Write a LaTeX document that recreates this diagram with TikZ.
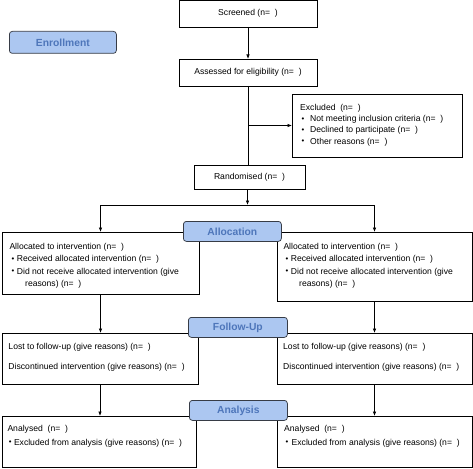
\documentclass[tikz,border=0pt]{standalone}
\usepackage{fontspec}
\usepackage{graphicx}
\setmainfont{Liberation Sans}
\usetikzlibrary{arrows.meta}
\definecolor{lblfill}{RGB}{172,199,241}
\definecolor{lbltext}{RGB}{78,118,186}
\definecolor{lbldraw}{RGB}{55,60,70}
\newcommand{\bitem}[2]{\hspace*{#1}\makebox[#2][l]{\raisebox{0.3pt}{\scalebox{0.9}{•}}}}
\begin{document}
\begin{tikzpicture}[x=1pt,y=-1pt,
  box/.style={draw=black, line width=0.75pt, anchor=north west, inner sep=0pt, outer sep=0pt, align=center, font=\fontsize{8.6}{10}\selectfont},
  txt/.style={anchor=north west, inner sep=0pt, align=left, font=\fontsize{8.6}{11.3}\selectfont},
  phase/.style={draw=lbldraw, line width=0.75pt, fill=lblfill, rounded corners=3pt, anchor=north west, inner sep=0pt, text=lbltext, font=\fontsize{10.3}{12}\selectfont\bfseries},
  arr/.style={-{Latex[length=4.5pt,width=3.6pt]}, line width=0.75pt},
  conn/.style={line width=0.75pt}]
\useasboundingbox (0,0) rectangle (473,468);

% boxes
\node[box, minimum width=138pt, minimum height=26.5pt] (screened) at (179,0.5) {Screened (n=~~)};
\node[box, minimum width=138pt, minimum height=27pt] (assessed) at (179,59) {Assessed for eligibility (n=~~)};
\node[box, minimum width=170pt, minimum height=63pt] (excluded) at (292,94) {};
\node[box, minimum width=111pt, minimum height=24pt] (randomised) at (194,165) {Randomised (n=~~)};
\node[box, minimum width=197pt, minimum height=62pt] (allocL) at (2,232) {};
\node[box, minimum width=195pt, minimum height=69pt] (allocR) at (277,232) {};
\node[box, minimum width=196pt, minimum height=51pt] (fuL) at (2,333) {};
\node[box, minimum width=195pt, minimum height=51pt] (fuR) at (277,333) {};
\node[box, minimum width=194pt, minimum height=51pt] (anL) at (2,416) {};
\node[box, minimum width=195pt, minimum height=51pt] (anR) at (277,416) {};

% texts
\node[txt] (exT) at (300,103.7) {Excluded~~(n=~~)\\
\bitem{1.5pt}{8.5pt}Not meeting inclusion criteria (n=~~)\\
\bitem{1.5pt}{8.5pt}Declined to participate (n=~~)\\
\bitem{1.5pt}{8.5pt}Other reasons (n=~~)};

\node[txt] (allocLT) at (9.3,242.7) {Allocated to intervention (n=~~)\\[1.2pt]
\bitem{2pt}{5.4pt}Received allocated intervention (n=~~)\\[1.2pt]
\bitem{2pt}{5.4pt}Did not receive allocated intervention (give\\[0.7pt]
\hspace*{15.7pt}reasons) (n=~~)};
\node[txt] (allocRT) at (283.3,242.7) {Allocated to intervention (n=~~)\\[1.2pt]
\bitem{2pt}{5.4pt}Received allocated intervention (n=~~)\\[1.2pt]
\bitem{2pt}{5.4pt}Did not receive allocated intervention (give\\[0.7pt]
\hspace*{15.7pt}reasons) (n=~~)};

\node[txt] (fuLT) at (8.3,342.7) {Lost to follow-up (give reasons) (n=~~)\\[8.7pt]
Discontinued intervention (give reasons) (n=~~)};
\node[txt] (fuRT) at (283,342.7) {Lost to follow-up (give reasons) (n=~~)\\[8.7pt]
Discontinued intervention (give reasons) (n=~~)};

\node[txt] (anLT) at (7.3,424.7) {Analysed~~(n=~~)\\[2.7pt]
\bitem{1.5pt}{5pt}Excluded from analysis (give reasons) (n=~~)};
\node[txt] (anRT) at (284,424.7) {Analysed~~(n=~~)\\[2.7pt]
\bitem{1.5pt}{6pt}Excluded from analysis (give reasons) (n=~~)};

% connectors
\draw[arr] (screened.south) -- (assessed.north);
\draw[conn] (assessed.south) -- (assessed.south |- randomised.north);
\coordinate (exbr) at (assessed.south |- excluded.west);
\draw[arr] (exbr) -- (excluded.west);
\coordinate (split) at (247.5,205);
\draw[arr] (randomised.south -| split) -- (split);
\coordinate (splitL) at (allocL.north |- split);
\coordinate (splitR) at (allocR.north |- split);
\draw[conn] (splitL) -- (splitR);
\draw[arr] (splitL) -- (allocL.north);
\draw[arr] (splitR) -- (allocR.north);
\draw[arr] (allocL.south) -- (allocL.south |- fuL.north);
\draw[arr] (allocR.south) -- (allocR.south |- fuR.north);
\draw[arr] (fuL.south) -- (fuL.south |- anL.north);
\draw[arr] (fuR.south) -- (fuR.south |- anR.north);

% phase labels
\node[phase, minimum width=107pt, minimum height=22pt] (enroll) at (9,31) {Enrollment};
\node[phase, minimum width=98pt, minimum height=20pt] (allocation) at (183,221) {Allocation};
\node[phase, minimum width=99pt, minimum height=20pt] (followup) at (188,317) {Follow-Up};
\node[phase, minimum width=98pt, minimum height=20pt] (analysis) at (189,400) {Analysis};
\end{tikzpicture}
\end{document}
